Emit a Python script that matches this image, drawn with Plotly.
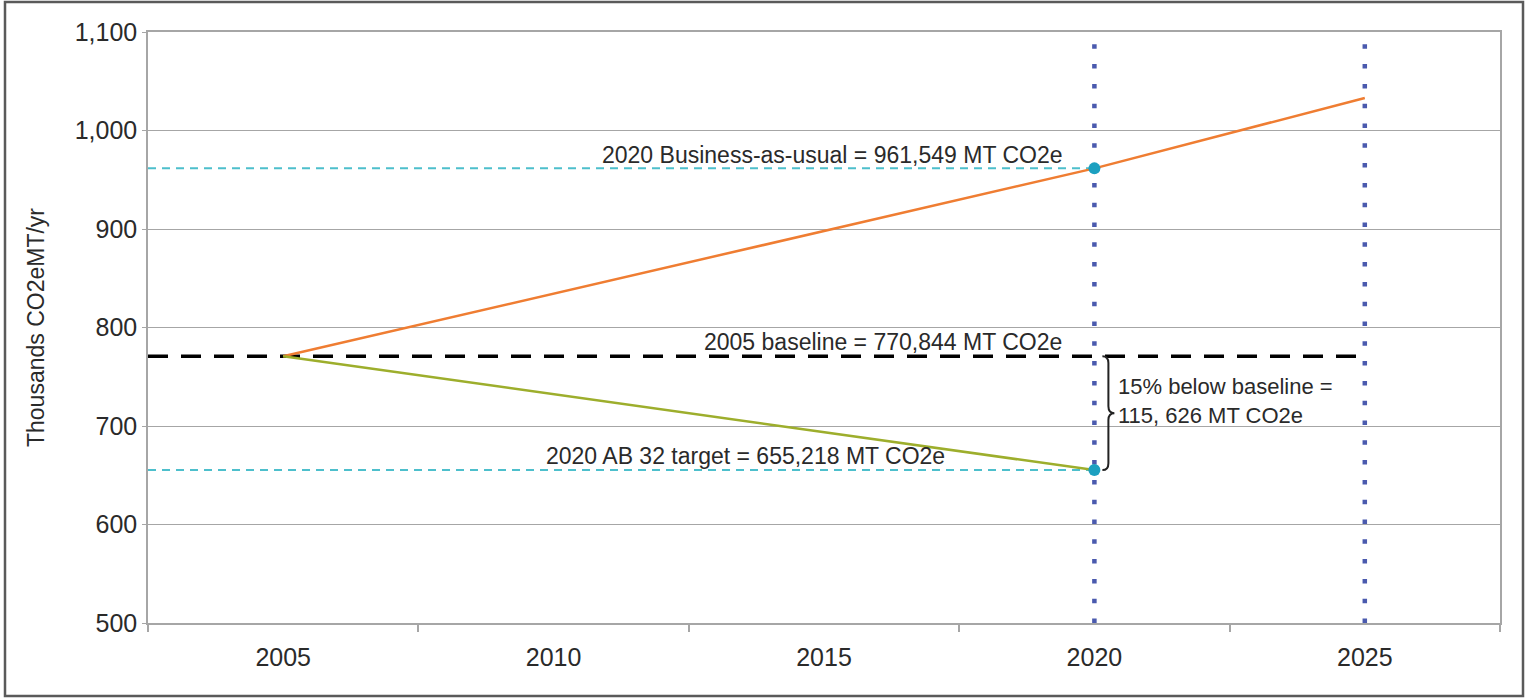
import plotly.graph_objects as go

# ---- data ----
years = [2005, 2010, 2015, 2020, 2025]
year_labels = ["2005", "2010", "2015", "2020", "2025"]
bau_years = [2005, 2020, 2025]
bau_values = [770.844, 961.549, 1033]
target_years = [2005, 2020]
target_values = [770.844, 655.218]
baseline_value = 770.844
bau_2020 = 961.549
target_2020 = 655.218
marker_years = [2020, 2020]
marker_values = [961.549, 655.218]
guide_years = [2020, 2025]
guide_range = [500, 1088]
y_ticks = [500, 600, 700, 800, 900, 1000, 1100]
boundary_ticks = [2002.5, 2007.5, 2012.5, 2017.5, 2022.5, 2027.5]

X_MIN, X_MAX = 2002.5, 2027.5
FONT = "Liberation Sans, Arial, sans-serif"
TXT = "#2a2a2a"

fig = go.Figure()

# blue dotted guides
for gy in guide_years:
    fig.add_trace(go.Scatter(x=[gy, gy], y=guide_range, mode="lines",
                             line=dict(color="#4A5AAE", width=4.5, dash="4.5px,15.3px"),
                             hoverinfo="skip", showlegend=False))

# cyan dashed guides
for val in [bau_2020, target_2020]:
    fig.add_trace(go.Scatter(x=[X_MIN, 2020], y=[val, val], mode="lines",
                             line=dict(color="#4DBFCC", width=2, dash="8px,6px"),
                             hoverinfo="skip", showlegend=False))

# baseline
fig.add_trace(go.Scatter(x=[X_MIN, 2025], y=[baseline_value, baseline_value], mode="lines",
                         line=dict(color="#000000", width=3.5, dash="20px,13px"),
                         hoverinfo="skip", showlegend=False))

# business as usual
fig.add_trace(go.Scatter(x=bau_years, y=bau_values, mode="lines",
                         line=dict(color="#EF7D32", width=2.5), showlegend=False))
# AB 32 target
fig.add_trace(go.Scatter(x=target_years, y=target_values, mode="lines",
                         line=dict(color="#9DAE2C", width=2.5), showlegend=False))

# markers
fig.add_trace(go.Scatter(x=marker_years, y=marker_values, mode="markers",
                         marker=dict(color="#1CA0C0", size=12), cliponaxis=False,
                         showlegend=False))

# curly brace between baseline and target at 2020
bx0 = 2020 + 8 / 54.08
bx1 = 2020 + 14 / 54.08
bx2 = 2020 + 20 / 54.08
mid = (baseline_value + target_2020) / 2
d = 7
path = (f"M {bx0},{baseline_value} Q {bx1},{baseline_value} {bx1},{baseline_value - d} "
        f"L {bx1},{mid + d} Q {bx1},{mid} {bx2},{mid} Q {bx1},{mid} {bx1},{mid - d} "
        f"L {bx1},{target_2020 + d} Q {bx1},{target_2020} {bx0},{target_2020}")
fig.add_shape(type="path", path=path, xref="x", yref="y",
              line=dict(color="#222222", width=2))

# outer frame
fig.add_shape(type="rect", xref="paper", yref="paper",
              x0=(5 - 148) / 1352, x1=(1523 - 148) / 1352,
              y0=(623 - 696) / 591, y1=(623 - 2) / 591,
              line=dict(color="#5a5a5a", width=2.5), layer="below")

ann_font = dict(family=FONT, size=23, color=TXT)
fig.add_annotation(x=2020, y=bau_2020, xref="x", yref="y", showarrow=False,
                   text="2020 Business-as-usual = 961,549 MT CO2e",
                   xanchor="right", yanchor="middle", xshift=-30, yshift=13, font=ann_font)
fig.add_annotation(x=2020, y=baseline_value, xref="x", yref="y", showarrow=False,
                   text="2005 baseline = 770,844 MT CO2e",
                   xanchor="right", yanchor="middle", xshift=-30, yshift=14, font=ann_font)
fig.add_annotation(x=2020, y=target_2020, xref="x", yref="y", showarrow=False,
                   text="2020 AB 32 target = 655,218 MT CO2e",
                   xanchor="right", yanchor="middle", xshift=-147, yshift=14, font=ann_font)
fig.add_annotation(x=2020, y=mid, xref="x", yref="y", showarrow=False,
                   text="15% below baseline =<br>115, 626 MT CO2e", align="left",
                   xanchor="left", yanchor="middle", xshift=22, yshift=12,
                   font=dict(family=FONT, size=22, color=TXT))

fig.update_layout(
    width=1530, height=698,
    margin=dict(l=148, r=30, t=32, b=75),
    paper_bgcolor="white", plot_bgcolor="white",
    font=dict(family=FONT, color=TXT),
    xaxis=dict(range=[X_MIN, X_MAX], tickmode="array", tickvals=years, ticktext=year_labels,
               ticks="", showgrid=False, zeroline=False,
               showline=True, linecolor="#A6A6A6", linewidth=1.5, mirror=True,
               tickfont=dict(family=FONT, size=25, color=TXT), ticklabelstandoff=11,
               minor=dict(tickmode="array", tickvals=boundary_ticks, ticks="outside",
                          ticklen=7, tickcolor="#A6A6A6", tickwidth=1.5, showgrid=False)),
    yaxis=dict(range=[500, 1100], tickmode="array", tickvals=y_ticks, tickformat=",",
               showgrid=True, gridcolor="#A6A6A6", gridwidth=1, zeroline=False,
               showline=True, linecolor="#A6A6A6", linewidth=1.5, mirror=True,
               ticks="outside", ticklen=4, tickcolor="#A6A6A6",
               tickfont=dict(family=FONT, size=25, color=TXT),
               title=dict(text="Thousands CO2eMT/yr", standoff=24,
                          font=dict(family=FONT, size=23, color=TXT))),
)

fig.write_html("out.html", config={"displayModeBar": False},
               post_script="document.body.style.margin='0';")
